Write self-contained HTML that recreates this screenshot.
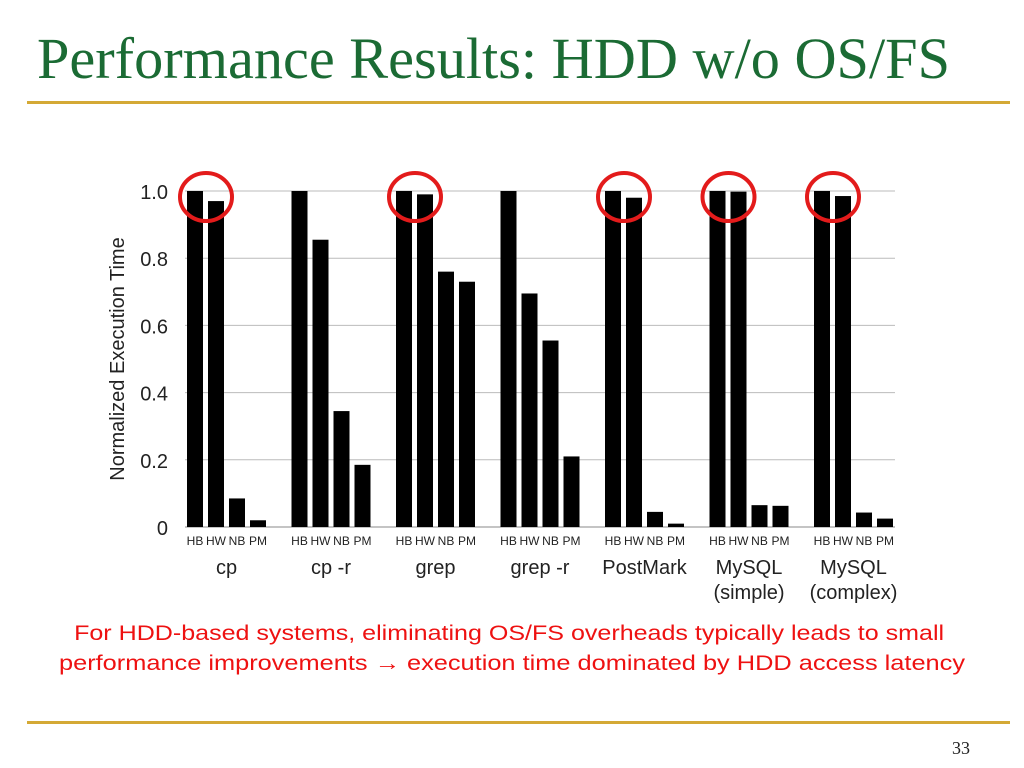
<!DOCTYPE html>
<html><head><meta charset="utf-8"><style>
html,body{margin:0;padding:0;background:#fff;width:1024px;height:768px;overflow:hidden}
svg{display:block}
</style></head><body>
<svg id="s" width="1024" height="768" xmlns="http://www.w3.org/2000/svg">
<text x="37" y="78" font-family="Liberation Serif, serif" font-size="58" fill="#1b6b34" textLength="913" lengthAdjust="spacingAndGlyphs">Performance Results: HDD w/o OS/FS</text>
<rect x="27" y="101" width="983" height="3" fill="#d4a935"/>
<g id="chart"></g>
<text font-family="Liberation Sans, sans-serif" font-size="21" fill="#ee1111" text-anchor="middle">
<tspan x="512" y="640" textLength="870" lengthAdjust="spacingAndGlyphs">For HDD-based systems, eliminating OS/FS overheads typically leads to small</tspan>
<tspan x="512" y="670" textLength="906" lengthAdjust="spacingAndGlyphs">performance improvements → execution time dominated by HDD access latency</tspan>
</text>
<rect x="27" y="721" width="983" height="3" fill="#d4a935"/>
<text x="970" y="754" font-family="Liberation Serif, serif" font-size="18" fill="#222" text-anchor="end">33</text>
</svg>
<script>
const categories = ["cp", "cp -r", "grep", "grep -r", "PostMark", "MySQL\n(simple)", "MySQL\n(complex)"];
const seriesNames = ["HB", "HW", "NB", "PM"];
const HB = [1, 1, 1, 1, 1, 1, 1];
const HW = [0.97, 0.855, 0.99, 0.695, 0.98, 0.998, 0.985];
const NB = [0.085, 0.345, 0.76, 0.555, 0.045, 0.065, 0.043];
const PM = [0.02, 0.185, 0.73, 0.21, 0.01, 0.063, 0.025];
const yTicks = [0, 0.2, 0.4, 0.6, 0.8, 1.0];
const yTickLabels = ["0", "0.2", "0.4", "0.6", "0.8", "1.0"];
const circled = [0, 2, 4, 5, 6];

const NS = "http://www.w3.org/2000/svg";
const g = document.getElementById("chart");
const X0 = 185, X1 = 895, Y0 = 527, Y1 = 191;
const groupW = 104.5;
const y = v => Y0 - v * (Y0 - Y1);
const barX = (gi, si) => X0 + 2 + gi * groupW + si * 21;
function el(tag, attrs, parent) {
  const e = document.createElementNS(NS, tag);
  for (const k in attrs) e.setAttribute(k, attrs[k]);
  (parent || g).appendChild(e);
  return e;
}
yTicks.forEach((t, i) => {
  const ln = el("line", {x1: X0, x2: X1, y1: y(t), y2: y(t), stroke: i === 0 ? "#888" : "#bbb", "stroke-width": 1});
  
  
  const tx = el("text", {x: 168, y: y(t) + 8, "text-anchor": "end", "font-family": "Liberation Sans, sans-serif", "font-size": 20, fill: "#222"});
  tx.textContent = yTickLabels[i];
  
  
});
const yt = el("text", {x: 0, y: 0, transform: "translate(124,359) rotate(-90)", "text-anchor": "middle", "font-family": "Liberation Sans, sans-serif", "font-size": 20, fill: "#222"});
yt.textContent = "Normalized Execution Time";


const series = [HB, HW, NB, PM];
categories.forEach((c, gi) => {
  series.forEach((arr, si) => {
    const r = el("rect", {x: barX(gi, si), y: y(arr[gi]), width: 16, height: Y0 - y(arr[gi]), fill: "#000"});
    
    
    const lb = el("text", {x: barX(gi, si) + 8, y: 545, "text-anchor": "middle", "font-family": "Liberation Sans, sans-serif", "font-size": 12, fill: "#222"});
    lb.textContent = seriesNames[si];
    
    
  });
  const cx = barX(gi, 0) + 39.5;
  c.split("\n").forEach((ln, li) => {
    const t = el("text", {x: cx, y: 574 + li * 25, "text-anchor": "middle", "font-family": "Liberation Sans, sans-serif", "font-size": 20, fill: "#222"});
    t.textContent = ln;
    
    
  });
});
circled.forEach(gi => {
  const e = el("ellipse", {cx: barX(gi, 0) + 19, cy: y(1) + 6, rx: 26, ry: 24, fill: "none", stroke: "#e31b1b", "stroke-width": 4});
  
  
});
</script>
</body></html>
